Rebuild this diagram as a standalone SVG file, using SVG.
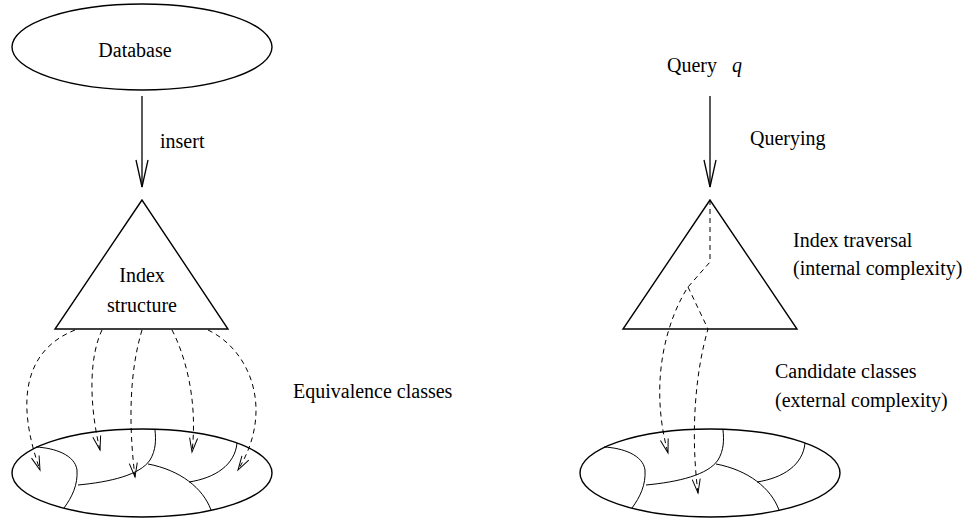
<svg xmlns="http://www.w3.org/2000/svg" width="966" height="520" viewBox="0 0 966 520">
<style>
text{font-family:"Liberation Serif","Times New Roman",serif;font-size:20px;fill:#000}
.sh{fill:none;stroke:#000;stroke-width:1.4}
.part{fill:none;stroke:#000;stroke-width:1}
.solid{fill:none;stroke:#000;stroke-width:1.3}
.dash{fill:none;stroke:#000;stroke-width:1;stroke-dasharray:5 4}
</style>
<defs>
<marker id="big" markerUnits="userSpaceOnUse" orient="auto" markerWidth="32" markerHeight="16" refX="0" refY="0" viewBox="-30 -8 32 16" overflow="visible">
<path d="M-27,-6 L0,0 L-27,6" fill="none" stroke="#000" stroke-width="1.3"/>
</marker>
<marker id="small" markerUnits="userSpaceOnUse" orient="auto" markerWidth="18" markerHeight="10" refX="0" refY="0" viewBox="-16 -5 18 10" overflow="visible">
<path d="M-14,-4 L0,0 L-14,4" fill="none" stroke="#000" stroke-width="1"/>
</marker>
<g id="classes">
<ellipse cx="142" cy="473" rx="130" ry="44" class="sh"/>
<path class="part" d="M36,447 C55,448 75,455 77,470 C78,485 72,497 64,508"/>
<path class="part" d="M78,485 C110,482 140,475 150,460 C156,450 156,440 155,430"/>
<path class="part" d="M148,464 C180,470 203,488 211,510"/>
<path class="part" d="M189,482 C215,478 235,465 237,443"/>
</g>
</defs>

<g id="database">
<ellipse cx="142" cy="47" rx="130" ry="43" class="sh"/>
<text x="135" y="57" text-anchor="middle">Database</text>
</g>

<g id="index-left">
<polygon points="142,200 55,329 228,329" class="sh"/>
<text x="142" y="282" text-anchor="middle">Index</text>
<text x="142" y="312" text-anchor="middle">structure</text>
</g>

<g id="classes-left">
<use href="#classes"/>
</g>

<g id="query">
<text x="667" y="72">Query <tspan x="732" font-style="italic">q</tspan></text>
</g>

<g id="index-right">
<polygon points="710,200 623,329 797,329" class="sh"/>
</g>

<g id="classes-right">
<use href="#classes" transform="translate(568,0)"/>
</g>

<g id="connectors">
<path class="solid" d="M142,96 L142,187" marker-end="url(#big)"/>
<path class="solid" d="M710,96 L710,187" marker-end="url(#big)"/>
<path class="dash" d="M75,330 C25,350 15,400 40,470" marker-end="url(#small)"/>
<path class="dash" d="M102,330 C90,355 88,400 100,450" marker-end="url(#small)"/>
<path class="dash" d="M142,330 C130,370 128,420 135,477" marker-end="url(#small)"/>
<path class="dash" d="M172,330 C185,355 198,400 192,452" marker-end="url(#small)"/>
<path class="dash" d="M208,330 C250,350 275,410 238,470" marker-end="url(#small)"/>
<path class="dash" d="M710,200 L710,262 L688,287 C668,318 648,380 668,453" marker-end="url(#small)"/>
<path class="dash" d="M688,287 L708,329 C696,370 690,430 698,493" marker-end="url(#small)"/>
</g>

<g id="labels">
<text x="160" y="148">insert</text>
<text x="293" y="398">Equivalence classes</text>
<text x="750" y="145">Querying</text>
<text x="793" y="247">Index traversal</text>
<text x="793" y="275">(internal complexity)</text>
<text x="775" y="378">Candidate classes</text>
<text x="775" y="407">(external complexity)</text>
</g>
</svg>
